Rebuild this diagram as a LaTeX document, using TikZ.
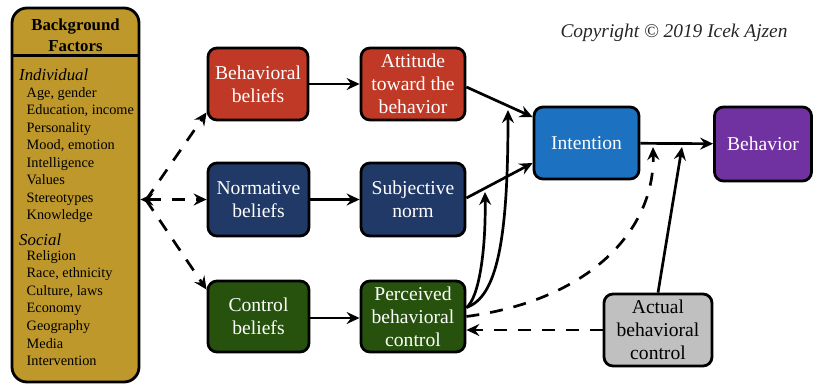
\documentclass[tikz,border=0pt]{standalone}
\usepackage{fontspec}
\setmainfont{Liberation Serif}
\usetikzlibrary{arrows.meta,calc}
\definecolor{bggold}{RGB}{190,152,42}
\definecolor{bred}{RGB}{192,57,38}
\definecolor{bnavy}{RGB}{32,57,102}
\definecolor{bgreen}{RGB}{38,82,14}
\definecolor{bblue}{RGB}{28,113,192}
\definecolor{bpurple}{RGB}{112,50,160}
\definecolor{bgray}{RGB}{192,192,192}
\tikzset{
  box/.style={draw=black, line width=2.8pt, rounded corners=9pt, text=white,
    align=center, font=\fontsize{19.6}{23}\selectfont, inner sep=0pt},
  conn/.style={line width=2.7pt, ->},
  dashconn/.style={conn, dash pattern=on 13pt off 11pt},
  item/.style={font=\fontsize{14.3}{17}\selectfont, inner sep=0pt, anchor=base west},
  grp/.style={font=\fontsize{16.8}{19}\selectfont\itshape, inner sep=0pt, anchor=base west},
}
\begin{document}
\begin{tikzpicture}[x=1pt,y=-1pt,>={Stealth[length=13pt,width=12pt,inset=4.5pt]}]
\useasboundingbox (0,0) rectangle (814,386);
% background factors
\node[draw=black, line width=2.8pt, rounded corners=15pt, fill=bggold,
  minimum width=127pt, minimum height=374pt, inner sep=0pt] (bg) at (75.5,195) {};
\path (bg.north) ++(0,49) coordinate (hline);
\draw[line width=2.8pt] (hline -| bg.west) -- (hline -| bg.east);
\node[font=\fontsize{16.8}{21}\selectfont\bfseries, align=center, inner sep=0pt] (hdr) at (75.5,35.5) {Background\\Factors};
\node[grp] (indiv) at (19,80) {Individual};
\foreach \t [count=\i] in {{Age, gender},{Education, income},{Personality},{Mood, emotion},{Intelligence},{Values},{Stereotypes},{Knowledge}}{
  \node[item] (ind\i) at (26.5,{80+17.45*\i}) {\t};
}
\node[grp] (social) at (19,245) {Social};
\foreach \t [count=\i] in {{Religion},{Race, ethnicity},{Culture, laws},{Economy},{Geography},{Media},{Intervention}}{
  \node[item] (soc\i) at (26.5,{242.4+17.6*\i}) {\t};
}
% boxes
\node[box, fill=bred, minimum width=100pt, minimum height=72pt] (bb) at (258,84) {Behavioral\\beliefs};
\node[box, fill=bred, minimum width=104pt, minimum height=72pt] (att) at (413,84) {Attitude\\toward the\\behavior};
\node[box, fill=bnavy, minimum width=101pt, minimum height=73pt] (nb) at (258.5,199.5) {Normative\\beliefs};
\node[box, fill=bnavy, minimum width=104pt, minimum height=73pt] (sn) at (413,199.5) {Subjective\\norm};
\node[box, fill=bgreen, minimum width=101pt, minimum height=71pt] (cb) at (258.5,316.5) {Control\\beliefs};
\node[box, fill=bgreen, minimum width=104pt, minimum height=71pt] (pbc) at (413,316.5) {Perceived\\behavioral\\control};
\node[box, fill=bblue, minimum width=105pt, minimum height=72pt] (int) at (586.5,143) {Intention};
\node[box, fill=bpurple, minimum width=97pt, minimum height=74pt] (beh) at (763,144) {Behavior};
\node[box, fill=bgray, text=black, minimum width=108pt, minimum height=72pt] (abc) at (658,330) {Actual\\behavioral\\control};
\node[font=\fontsize{19.4}{22}\selectfont\itshape, text=black!85, inner sep=0pt] (copy) at (674,33) {Copyright © 2019 Icek Ajzen};
% connectors
\coordinate (jn) at (146,200);
\draw[dashconn] (jn) -- ([yshift=9pt]bb.south west);
\draw[dashconn] (jn) -- ([yshift=-10pt]cb.north west);
\draw[dashconn, <->] (bg.east |- nb.west) -- (nb.west);
\draw[conn] (bb) -- (att);
\draw[conn] (nb) -- (sn);
\draw[conn] (cb.east |- 0,318) -- (pbc.west |- 0,318);
\draw[conn] ([yshift=-3pt]att.east) -- ([yshift=26pt]int.west);
\draw[conn] ([yshift=1.5pt]sn.east) -- ([yshift=-20pt]int.west);
\coordinate (c1) at (485,192);
\coordinate (c2) at (508,110);
\coordinate (c3) at (653,147);
\coordinate (c4) at (682,147);
\draw[conn] ([yshift=9pt]pbc.east) .. controls (479,298) and (486,250) .. (c1);
\draw[conn] ([yshift=9pt]pbc.east) .. controls (497,297) and (508,240) .. (c2);
\draw[conn] (int) -- (beh);
\draw[dashconn] (pbc.east) .. controls (590,300) and (655,230) .. (c3);
\draw[conn] (abc.north) -- (c4);
\draw[dashconn] (abc.west) -- (abc.west -| pbc.east);
\end{tikzpicture}
\end{document}
